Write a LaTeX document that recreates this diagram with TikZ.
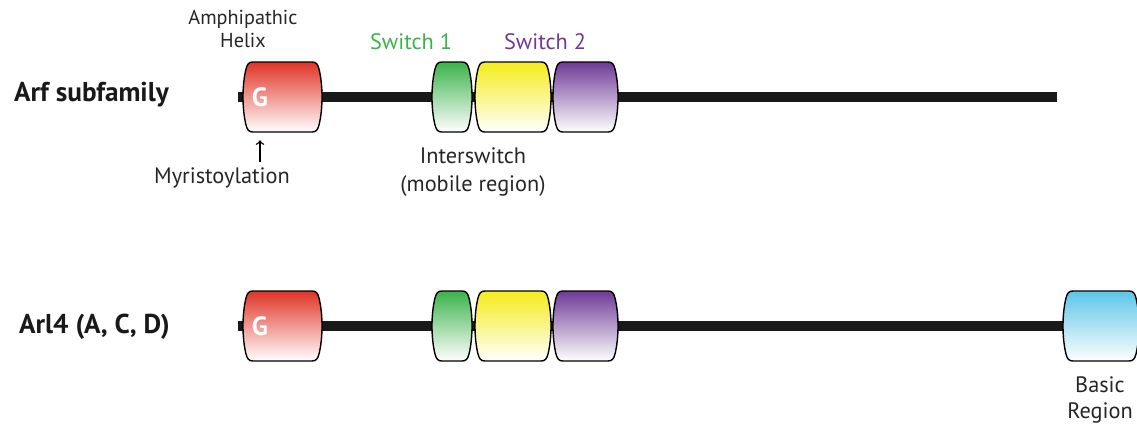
\documentclass[tikz,border=0pt]{standalone}
\usepackage{fontspec}
\setmainfont{PT Sans}

\definecolor{helixred}{HTML}{E03426}
\definecolor{swonegreen}{HTML}{3BB34A}
\definecolor{interyellow}{HTML}{F5EB1B}
\definecolor{swtwopurple}{HTML}{6F3A97}
\definecolor{basicblue}{HTML}{5BC6E8}

% barrel shaped domain: name, x centre, y centre, half width, colour
\newcommand{\domain}[5]{%
\node (#1) [dombox, minimum width=0.04cm*#4] at (#2,#3) {};
\begin{scope}[shift={(#2,#3)}]
\draw [domline, top color=#5, middle color=#5!70!white, bottom color=white]
  (-#4+10,-35) -- (#4-10,-35)
  .. controls (#4-6,-35) and (#4-4.25,-33) .. (#4-3,-28)
  .. controls (#4+1,-12) and (#4+1,12) .. (#4-3,28)
  .. controls (#4-4.25,33) and (#4-6,35) .. (#4-10,35)
  -- (-#4+10,35)
  .. controls (-#4+6,35) and (-#4+4.25,33) .. (-#4+3,28)
  .. controls (-#4-1,12) and (-#4-1,-12) .. (-#4+3,-28)
  .. controls (-#4+4.25,-33) and (-#4+6,-35) .. cycle;
\end{scope}}

\begin{document}
\begin{tikzpicture}[x=0.02cm,y=-0.02cm]
\tikzset{dombox/.style={inner sep=0pt, minimum height=1.4cm},
  domline/.style={black, line width=0.8pt},
  backbone/.style={line width=0.2cm, black!90},
  label/.style={font=\fontsize{12.7}{16}\selectfont, text=black!85},
  family/.style={font=\fontsize{15.5}{18}\selectfont\bfseries, text=black!90},
  gmark/.style={font=\fontsize{15}{17}\selectfont\bfseries, text=white}}
\useasboundingbox (0,0) rectangle (1137,426);

% Arf subfamily
\coordinate (a0) at (238,97);
\coordinate (a1) at (1057,97);
\draw [backbone] (a0) -- (a1);
\domain{ag}{282.5}{97}{39.5}{helixred}
\domain{as1}{452}{97}{20}{swonegreen}
\domain{ais}{513}{97}{38}{interyellow}
\domain{as2}{585.5}{97}{32.5}{swtwopurple}
\node [gmark] at (260,97) {G};
\node (arf) [family, anchor=west] at (8,95) {Arf subfamily};
\node (amph) [label, font=\fontsize{11.5}{13}\selectfont, align=center, anchor=south] at (243,54) {Amphipathic\\Helix};
\node (sw1) [label, text=swonegreen, anchor=south] at (411,56) {Switch 1};
\node (sw2) [label, text=swtwopurple, anchor=south] at (545,56) {Switch 2};
\node (myr) [label] at (222,178) {Myristoylation};
\draw [->, line width=0.8pt, shorten >=0.16cm] (myr.north -| 260,0) -- (ag.south -| 260,0);
\node (inter) [label, align=center] at (473,172) {Interswitch\\(mobile region)};

% Arl4 (A, C, D)
\coordinate (b0) at (238,326);
\coordinate (b1) at (1080,326);
\draw [backbone] (b0) -- (b1);
\domain{bg}{282.5}{326}{39.5}{helixred}
\domain{bs1}{452}{326}{20}{swonegreen}
\domain{bis}{513}{326}{38}{interyellow}
\domain{bs2}{585.5}{326}{32.5}{swtwopurple}
\domain{bb}{1101}{326}{38}{basicblue}
\node [gmark] at (260,326) {G};
\node (arl) [family, anchor=west] at (13,327) {Arl4 (A, C, D)};
\node (basic) [label, align=center, font=\fontsize{12.7}{14.7}\selectfont] at (1100,400) {Basic\\Region};
\end{tikzpicture}
\end{document}
